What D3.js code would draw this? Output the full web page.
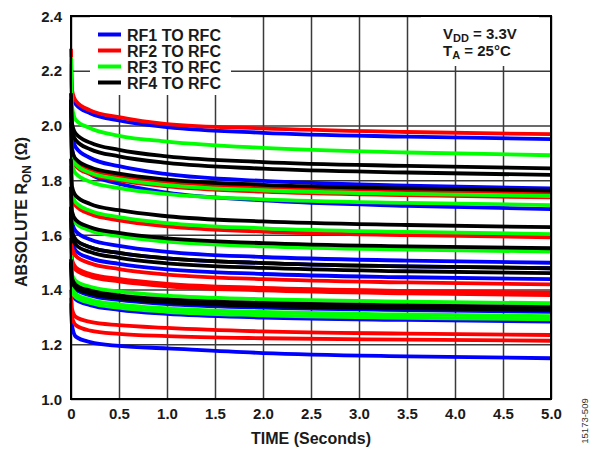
<!DOCTYPE html>
<html><head><meta charset="utf-8">
<script src="https://cdn.jsdelivr.net/npm/d3@7"></script>
<style>
html,body{margin:0;padding:0;background:#fff;}
svg{display:block;font-family:"Liberation Sans",Arial,Helvetica,sans-serif;}
</style></head>
<body>
<svg id="chart" width="599" height="450"></svg>
<script>
// ---- data ----
const times = [0, 0.01, 0.05, 0.2, 0.5, 1, 2, 3.5, 5];
const seriesNames = ["RF1 TO RFC", "RF2 TO RFC", "RF3 TO RFC", "RF4 TO RFC"];
const seriesColors = ["#0000ff", "#ff0000", "#00ff00", "#000000"];
const rf1Curves = [
  [2.225, 2.115, 2.077, 2.044, 2.018, 1.994, 1.973, 1.959, 1.950],
  [2.095, 1.965, 1.920, 1.881, 1.851, 1.822, 1.797, 1.780, 1.770],
  [2.069, 1.919, 1.867, 1.822, 1.787, 1.754, 1.726, 1.706, 1.694],
  [1.748, 1.648, 1.613, 1.583, 1.560, 1.538, 1.519, 1.506, 1.498],
  [1.703, 1.613, 1.582, 1.555, 1.534, 1.514, 1.497, 1.485, 1.478],
  [1.663, 1.573, 1.542, 1.515, 1.494, 1.474, 1.457, 1.445, 1.438],
  [1.494, 1.424, 1.400, 1.379, 1.362, 1.347, 1.334, 1.325, 1.319],
  [1.458, 1.388, 1.364, 1.343, 1.326, 1.311, 1.298, 1.289, 1.283],
  [1.350, 1.270, 1.228, 1.208, 1.194, 1.185, 1.168, 1.156, 1.149]
];
const rf2Curves = [
  [2.280, 2.130, 2.090, 2.055, 2.030, 2.005, 1.989, 1.976, 1.968],
  [2.004, 1.904, 1.869, 1.839, 1.816, 1.794, 1.775, 1.762, 1.754],
  [1.987, 1.887, 1.852, 1.822, 1.799, 1.777, 1.758, 1.745, 1.737],
  [1.841, 1.741, 1.706, 1.676, 1.653, 1.631, 1.612, 1.599, 1.591],
  [1.644, 1.554, 1.523, 1.496, 1.475, 1.455, 1.438, 1.426, 1.419],
  [1.589, 1.509, 1.481, 1.457, 1.439, 1.421, 1.406, 1.395, 1.389],
  [1.580, 1.500, 1.472, 1.448, 1.430, 1.412, 1.397, 1.386, 1.380],
  [1.400, 1.330, 1.300, 1.282, 1.270, 1.260, 1.247, 1.239, 1.234],
  [1.370, 1.300, 1.270, 1.250, 1.238, 1.230, 1.222, 1.217, 1.213]
];
const rf3Curves = [
  [2.250, 2.070, 2.020, 1.990, 1.962, 1.941, 1.918, 1.901, 1.891],
  [1.992, 1.892, 1.857, 1.827, 1.804, 1.782, 1.763, 1.750, 1.742],
  [1.959, 1.859, 1.824, 1.794, 1.771, 1.749, 1.730, 1.717, 1.709],
  [1.853, 1.753, 1.718, 1.688, 1.665, 1.643, 1.624, 1.611, 1.603],
  [1.764, 1.674, 1.643, 1.616, 1.595, 1.575, 1.558, 1.546, 1.539],
  [1.525, 1.455, 1.431, 1.410, 1.393, 1.378, 1.365, 1.356, 1.350],
  [1.478, 1.408, 1.384, 1.363, 1.346, 1.331, 1.318, 1.309, 1.303],
  [1.466, 1.396, 1.372, 1.351, 1.334, 1.319, 1.306, 1.297, 1.291]
];
const rf4Curves = [
  [2.118, 2.008, 1.970, 1.937, 1.911, 1.887, 1.866, 1.852, 1.843],
  [2.094, 1.984, 1.946, 1.913, 1.887, 1.863, 1.842, 1.828, 1.819],
  [2.012, 1.912, 1.877, 1.847, 1.824, 1.802, 1.783, 1.770, 1.762],
  [1.878, 1.778, 1.743, 1.713, 1.690, 1.668, 1.649, 1.636, 1.628],
  [1.776, 1.686, 1.655, 1.628, 1.607, 1.587, 1.570, 1.558, 1.551],
  [1.703, 1.613, 1.582, 1.555, 1.534, 1.514, 1.497, 1.485, 1.478],
  [1.685, 1.595, 1.564, 1.537, 1.516, 1.496, 1.479, 1.467, 1.460],
  [1.511, 1.441, 1.417, 1.396, 1.379, 1.364, 1.351, 1.342, 1.336],
  [1.500, 1.430, 1.406, 1.385, 1.368, 1.353, 1.340, 1.331, 1.325]
];
const xTicks = [0, 0.5, 1.0, 1.5, 2.0, 2.5, 3.0, 3.5, 4.0, 4.5, 5.0];
const xTickLabels = ["0", "0.5", "1.0", "1.5", "2.0", "2.5", "3.0", "3.5", "4.0", "4.5", "5.0"];
const yTicks = [1.0, 1.2, 1.4, 1.6, 1.8, 2.0, 2.2, 2.4];
const yTickLabels = ["1.0", "1.2", "1.4", "1.6", "1.8", "2.0", "2.2", "2.4"];

// ---- layout ----
const L = 71, R = 551, T = 16, B = 399;
const svg = d3.select("#chart");
const x = d3.scaleLinear().domain([0, 5]).range([L, R]);
const y = d3.scaleLinear().domain([1.0, 2.4]).range([B, T]);

// grid + tick labels via axes
const gx = svg.append("g").attr("transform", `translate(0,${B})`)
  .call(d3.axisBottom(x).tickValues(xTicks).tickSize(-(B - T)).tickPadding(6)
    .tickFormat((d, i) => xTickLabels[i]));
const gy = svg.append("g").attr("transform", `translate(${L},0)`)
  .call(d3.axisLeft(y).tickValues(yTicks).tickSize(-(R - L)).tickPadding(9)
    .tickFormat((d, i) => yTickLabels[i]));
[gx, gy].forEach(g => {
  g.select(".domain").remove();
  g.selectAll(".tick line").attr("stroke", "#3a3a3a").attr("stroke-width", 1.5);
  g.selectAll(".tick text").attr("font-size", 15).attr("font-weight", "bold")
    .attr("fill", "#1a1a1a").attr("font-family", "'Liberation Sans',Arial,sans-serif");
});
gx.selectAll(".tick text").attr("dy", "0.95em");
gy.selectAll(".tick text").attr("dy", "0.35em");

// white boxes behind legend and conditions text
svg.append("rect").attr("x", 90).attr("y", T).attr("width", 141).attr("height", 79).attr("fill", "#fff");
svg.append("rect").attr("x", 421).attr("y", T).attr("width", 118).attr("height", 50).attr("fill", "#fff");

// curves
const line = d3.line().x((d, i) => x(times[i])).y(d => y(d)).curve(d3.curveMonotoneX);
const allSeries = [rf1Curves, rf2Curves, rf3Curves, rf4Curves];
const gc = svg.append("g");
allSeries.forEach((curves, si) => {
  gc.selectAll(null).data(curves).enter().append("path")
    .attr("d", line).attr("fill", "none")
    .attr("stroke", seriesColors[si]).attr("stroke-width", 3.8)
    .attr("stroke-linejoin", "round");
});

// frame
svg.append("rect").attr("x", L).attr("y", T).attr("width", R - L).attr("height", B - T)
  .attr("fill", "none").attr("stroke", "#000").attr("stroke-width", 2);

// legend
const lg = svg.append("g");
seriesNames.forEach((n, i) => {
  const yy = 34.5 + i * 16;
  lg.append("line").attr("x1", 98).attr("x2", 121).attr("y1", yy).attr("y2", yy)
    .attr("stroke", seriesColors[i]).attr("stroke-width", 4);
  lg.append("text").attr("x", 127).attr("y", yy + 6).attr("font-size", 16)
    .attr("font-weight", "bold").attr("fill", "#1a1a1a").text(n);
});

// conditions
const c1 = svg.append("text").attr("x", 443).attr("y", 39).attr("font-size", 15)
  .attr("font-weight", "bold").attr("fill", "#1a1a1a");
c1.append("tspan").text("V");
c1.append("tspan").attr("font-size", 11).attr("dy", 3).text("DD");
c1.append("tspan").attr("dy", -3).text(" = 3.3V");
const c2 = svg.append("text").attr("x", 443).attr("y", 56).attr("font-size", 15)
  .attr("font-weight", "bold").attr("fill", "#1a1a1a");
c2.append("tspan").text("T");
c2.append("tspan").attr("font-size", 11).attr("dy", 3).text("A");
c2.append("tspan").attr("dy", -3).text(" = 25°C");

// axis titles
svg.append("text").attr("x", (L + R) / 2).attr("y", 444).attr("text-anchor", "middle")
  .attr("font-size", 16).attr("font-weight", "bold").attr("fill", "#1a1a1a").text("TIME (Seconds)");
const yt = svg.append("text").attr("transform", "translate(27,212) rotate(-90)")
  .attr("text-anchor", "middle").attr("font-size", 16).attr("font-weight", "bold").attr("fill", "#1a1a1a");
yt.append("tspan").text("ABSOLUTE R");
yt.append("tspan").attr("font-size", 12).attr("dy", 4).text("ON");
yt.append("tspan").attr("dy", -4).text(" (Ω)");

// figure id
svg.append("text").attr("transform", "translate(588,421) rotate(-90)").attr("text-anchor", "middle")
  .attr("font-size", 9.5).attr("fill", "#333").text("15173-509");
</script>
</body></html>
